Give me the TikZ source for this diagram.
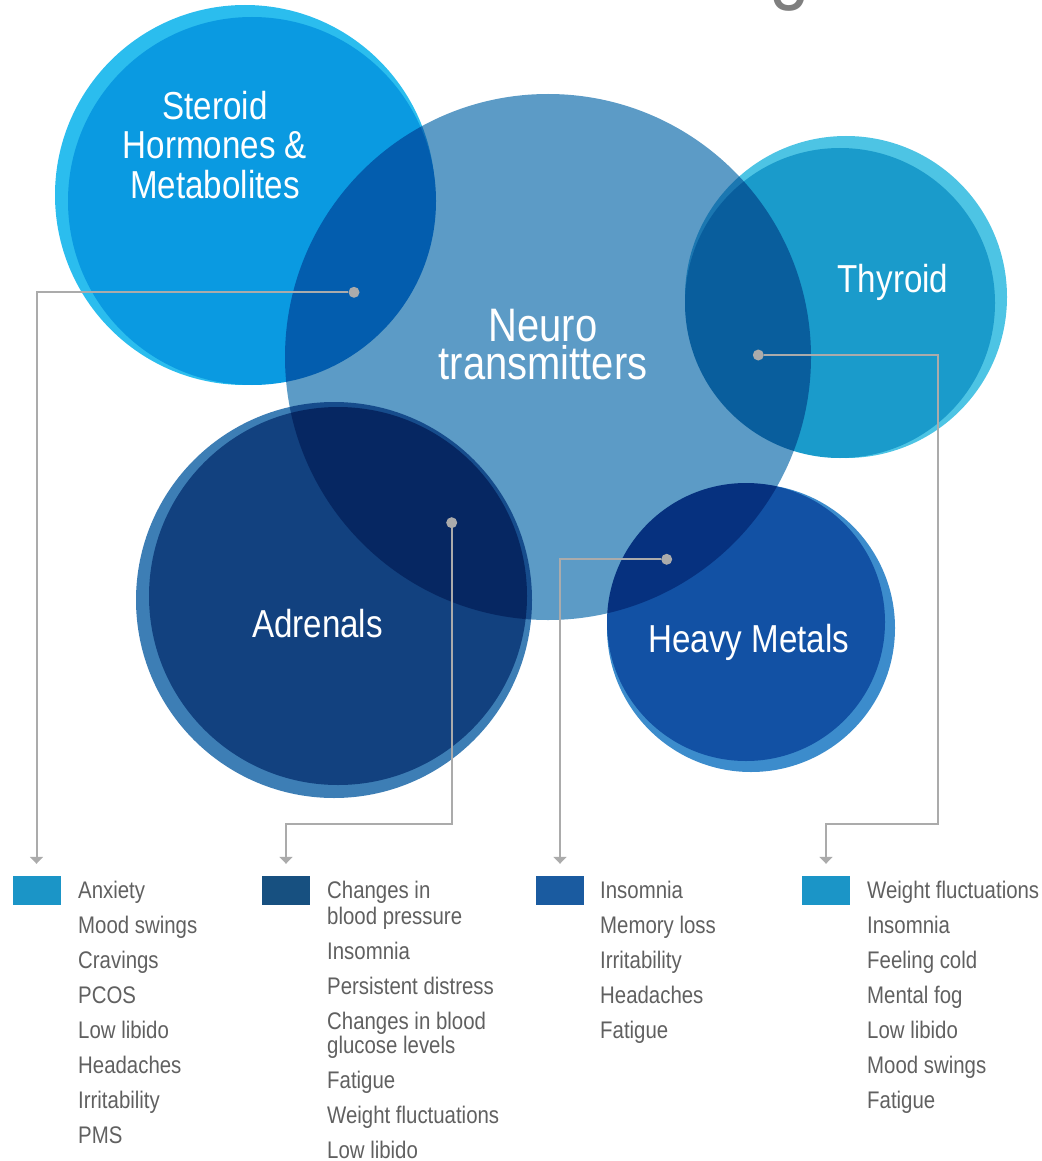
\documentclass[tikz,border=0pt]{standalone}
\usepackage{fontspec}
\usepackage{xcolor}
\usepackage{tikz}
\usetikzlibrary{positioning,calc,arrows.meta}

\newfontfamily\condfont[FakeStretch=0.85]{Liberation Sans}

% circle colours (outer ring / inner disc)
\definecolor{steroidring}{HTML}{2BBDEE}
\definecolor{steroidfill}{HTML}{0A9AE1}
\definecolor{thyroidring}{HTML}{4DC4E4}
\definecolor{thyroidfill}{HTML}{1A9BCB}
\definecolor{adrenalring}{HTML}{3D7EB5}
\definecolor{adrenalfill}{HTML}{12417F}
\definecolor{metalring}{HTML}{3C8CCC}
\definecolor{metalfill}{HTML}{1251A4}
\definecolor{neurofill}{HTML}{5C9BC6}
% legend
\definecolor{swatchlight}{HTML}{1B95C7}
\definecolor{swatchnavy}{HTML}{175080}
\definecolor{swatchblue}{HTML}{1A5BA0}
\definecolor{itemgray}{HTML}{606060}
\definecolor{linkgray}{HTML}{ABABAB}
\definecolor{titlegray}{HTML}{7F7F7F}

\begin{document}
\begin{tikzpicture}[
    x=1pt, y=-1pt,
    circlabel/.style={font=\condfont\fontsize{39}{39.5}\selectfont, text=white, align=center, inner sep=0pt},
    item/.style={font=\condfont\fontsize{24}{35}\selectfont, text=itemgray, align=left, inner sep=0pt, anchor=north west},
    swatch/.style={rectangle, minimum width=48pt, minimum height=29pt, inner sep=0pt},
    dot/.style={circle, fill=linkgray, minimum size=11pt, inner sep=0pt},
    link/.style={->, >={Triangle[length=7pt,width=13pt]}, draw=linkgray, line width=2pt, shorten >=12pt}
]
\useasboundingbox (0,0) rectangle (1041,1161);

% cut-off title letter at the top edge
\begin{scope}
\clip (0,0) rectangle (1041,1161);
\node[font=\condfont\fontsize{86}{86}\selectfont, text=titlegray, inner sep=0pt, anchor=base] (titleg) at (790,-6) {g};
\end{scope}

% satellite circles
\fill[steroidring] (245,195) circle (190);
\fill[steroidfill] (252,201) circle (184);
\fill[thyroidring] (846,297) circle (161);
\fill[thyroidfill] (840,303) circle (155);
\fill[adrenalring] (334,600) circle (198);
\fill[adrenalfill] (338,596) circle (189);
\fill[metalring] (751,628) circle (144);
\fill[metalfill] (746,622) circle (139);

% central circle, darkens the overlaps
\fill[neurofill, blend mode=multiply] (548,357) circle (263);

% circle labels
\node[circlabel, anchor=north] (steroid) at (215,90.7) {Steroid\\Hormones \&\\Metabolites};
\node[circlabel, font=\condfont\fontsize{47}{38}\selectfont, anchor=north] (neuro) at (543,309) {Neuro\\transmitters};
\node[circlabel, anchor=base] (thyroid) at (893,292) {Thyroid};
\node[circlabel, anchor=base] (adrenals) at (317.5,637) {Adrenals};
\node[circlabel, anchor=base] (metals) at (749,652) {Heavy Metals};

% pick-up dots in the overlaps
\node[dot] (dotS) at (354,292.3) {};
\node[dot] (dotT) at (758.3,355) {};
\node[dot] (dotA) at (451.7,522.7) {};
\node[dot] (dotH) at (666.7,559.3) {};

% legend swatches
\node[swatch, fill=swatchlight] (sqA) at (36.5,890.5) {};
\node[swatch, fill=swatchnavy] (sqB) at (286,890.5) {};
\node[swatch, fill=swatchblue] (sqC) at (560,890.5) {};
\node[swatch, fill=swatchlight] (sqD) at (826,890.5) {};

% symptom lists
\node[item] (listA) at (78,880.7) {Anxiety\\Mood swings\\Cravings\\PCOS\\Low libido\\Headaches\\Irritability\\PMS};
\node[item] (listB) at (327,880.7) {Changes in\\[-9pt]blood pressure\\Insomnia\\Persistent distress\\Changes in blood\\[-11pt]glucose levels\\Fatigue\\Weight fluctuations\\Low libido};
\node[item] (listC) at (600,880.7) {Insomnia\\Memory loss\\Irritability\\Headaches\\Fatigue};
\node[item] (listD) at (867,880.7) {Weight fluctuations\\Insomnia\\Feeling cold\\Mental fog\\Low libido\\Mood swings\\Fatigue};

% connectors
\coordinate (bendA) at (451.7,824);
\coordinate (bendT) at (938.3,824);
\draw[link] (dotS) -| (sqA.north);
\draw[link] (dotA) -- (bendA) -| (sqB.north);
\draw[link] (dotH) -| (sqC.north);
\draw[link] (dotT) -| (bendT) -| (sqD.north);
\end{tikzpicture}
\end{document}
